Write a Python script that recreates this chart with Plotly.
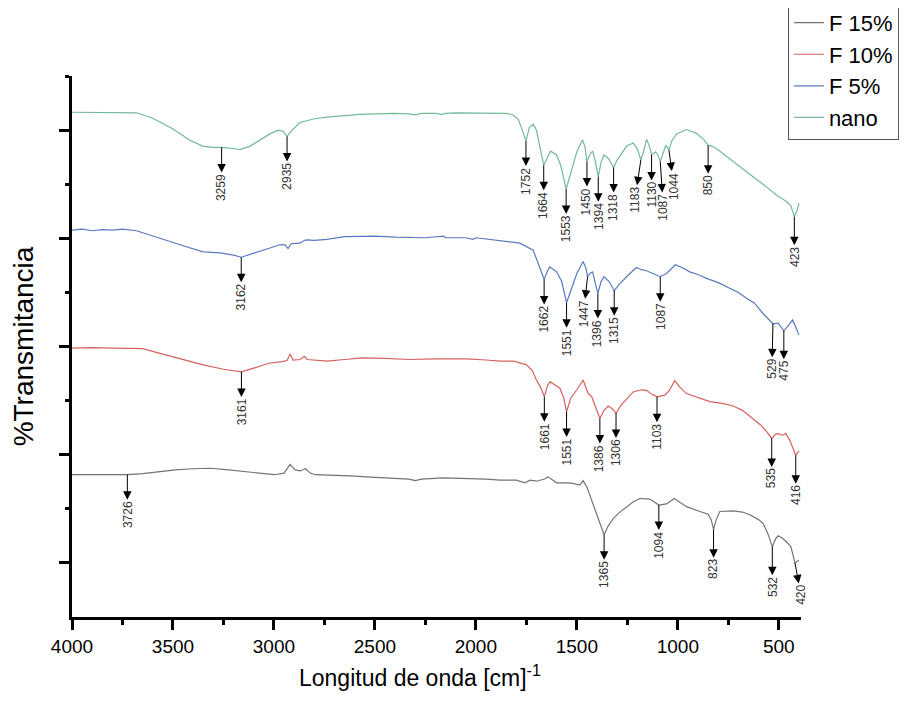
import numpy as np
import plotly.graph_objects as go

# ---------------- data (wavenumber cm^-1, offset transmittance, arbitrary units) ----------------
nano_wn = [4000, 3900, 3800, 3700, 3680, 3600, 3500, 3420, 3351, 3300, 3259, 3200, 3168, 3120, 3069,
           3020, 2980, 2955, 2935, 2915, 2871, 2800, 2739, 2650, 2574, 2500, 2400, 2330, 2300, 2270,
           2200, 2170, 2150, 2100, 2000, 1900, 1850, 1815, 1790, 1770, 1752, 1735, 1716, 1700, 1680,
           1664, 1645, 1630, 1600, 1580, 1553, 1530, 1500, 1472, 1460, 1450, 1435, 1422, 1410, 1394,
           1380, 1366, 1345, 1318, 1300, 1254, 1221, 1200, 1183, 1170, 1155, 1140, 1130, 1110, 1100,
           1087, 1070, 1059, 1044, 1030, 1006, 957, 907, 870, 850, 830, 809, 726, 644, 600, 561, 512,
           462, 440, 423, 410, 400]
nano_t = [9.33, 9.33, 9.33, 9.33, 9.32, 9.22, 9.02, 8.82, 8.70, 8.68, 8.68, 8.66, 8.64, 8.70, 8.82,
          8.93, 9.00, 8.98, 8.88, 8.98, 9.14, 9.21, 9.24, 9.27, 9.29, 9.30, 9.31, 9.30, 9.28, 9.31,
          9.31, 9.29, 9.31, 9.32, 9.32, 9.32, 9.31, 9.28, 9.20, 9.00, 8.80, 9.05, 9.11, 9.00, 8.60,
          8.35, 8.50, 8.61, 8.54, 8.35, 7.91, 8.20, 8.60, 8.82, 8.70, 8.42, 8.55, 8.61, 8.45, 8.14,
          8.40, 8.54, 8.48, 8.31, 8.45, 8.70, 8.76, 8.65, 8.45, 8.60, 8.83, 8.70, 8.54, 8.60, 8.55,
          8.42, 8.60, 8.72, 8.63, 8.80, 8.93, 9.01, 8.94, 8.82, 8.72, 8.70, 8.66, 8.42, 8.17, 8.06, 7.95, 7.80,
          7.68, 7.60, 7.40, 7.50, 7.65]

f5_wn = [4000, 3950, 3900, 3850, 3800, 3750, 3680, 3600, 3515, 3430, 3350, 3267, 3200, 3162, 3120,
         3069, 3020, 2970, 2945, 2930, 2915, 2871, 2850, 2838, 2800, 2739, 2650, 2574, 2500, 2400,
         2330, 2250, 2160, 2150, 2050, 2014, 2000, 1881, 1782, 1716, 1683, 1662, 1645, 1634, 1600,
         1575, 1551, 1525, 1500, 1469, 1455, 1447, 1435, 1422, 1410, 1396, 1380, 1366, 1340, 1315,
         1290, 1254, 1205, 1180, 1155, 1120, 1087, 1056, 1035, 1012, 975, 941, 900, 858, 800, 759,
         700, 660, 620, 578, 545, 529, 503, 475, 450, 432, 415, 400]
f5_t = [7.15, 7.17, 7.14, 7.16, 7.15, 7.17, 7.14, 7.05, 6.94, 6.84, 6.75, 6.73, 6.69, 6.65, 6.70,
        6.75, 6.81, 6.88, 6.88, 6.81, 6.90, 6.91, 6.96, 6.97, 6.96, 6.98, 7.03, 7.04, 7.04, 7.02,
        7.01, 7.01, 7.04, 7.01, 7.01, 6.98, 7.01, 6.96, 6.91, 6.78, 6.47, 6.24, 6.40, 6.47, 6.38,
        6.20, 5.81, 6.10, 6.35, 6.57, 6.45, 6.29, 6.35, 6.38, 6.20, 5.98, 6.20, 6.29, 6.20, 6.03,
        6.15, 6.29, 6.46, 6.42, 6.40, 6.35, 6.29, 6.35, 6.42, 6.51, 6.45, 6.38, 6.33, 6.26, 6.18, 6.11,
        6.00, 5.89, 5.80, 5.61, 5.48, 5.42, 5.43, 5.29, 5.40, 5.49, 5.35, 5.21]

f10_wn = [4000, 3900, 3800, 3700, 3650, 3550, 3450, 3350, 3250, 3161, 3100, 3026, 2960, 2935, 2920,
          2905, 2870, 2850, 2835, 2780, 2737, 2650, 2564, 2450, 2332, 2200, 2100, 2043, 1950, 1881,
          1812, 1749, 1720, 1700, 1680, 1661, 1645, 1633, 1600, 1584, 1565, 1551, 1530, 1500, 1469,
          1444, 1427, 1410, 1386, 1365, 1345, 1325, 1306, 1280, 1250, 1221, 1180, 1155, 1130, 1103,
          1064, 1040, 1015, 990, 957, 900, 842, 780, 726, 680, 627, 590, 561, 535, 515, 503, 480,
          465, 446, 430, 416, 400]
f10_t = [4.97, 4.98, 4.97, 4.97, 4.96, 4.86, 4.76, 4.66, 4.58, 4.53, 4.60, 4.69, 4.72, 4.74, 4.86,
         4.75, 4.76, 4.82, 4.76, 4.74, 4.73, 4.76, 4.79, 4.78, 4.76, 4.77, 4.77, 4.77, 4.75, 4.73,
         4.73, 4.66, 4.55, 4.38, 4.25, 4.07, 4.28, 4.35, 4.27, 4.23, 4.05, 3.79, 4.05, 4.20, 4.38,
         4.13, 4.08, 3.90, 3.67, 3.82, 3.90, 3.85, 3.77, 3.92, 4.05, 4.16, 4.20, 4.19, 4.12, 4.07,
         4.10, 4.20, 4.37, 4.25, 4.13, 4.05, 3.98, 3.95, 3.90, 3.82, 3.67, 3.55, 3.43, 3.30, 3.38, 3.39, 3.36,
         3.39, 3.27, 3.12, 2.99, 3.07]

f15_wn = [4000, 3900, 3800, 3726, 3650, 3560, 3488, 3400, 3315, 3250, 3142, 3050, 2997, 2950, 2920,
          2895, 2870, 2844, 2820, 2795, 2700, 2621, 2500, 2400, 2332, 2300, 2270, 2159, 2050, 1950,
          1881, 1800, 1757, 1732, 1700, 1660, 1642, 1620, 1600, 1551, 1520, 1485, 1469, 1450, 1427,
          1394, 1375, 1365, 1345, 1320, 1290, 1254, 1220, 1188, 1139, 1094, 1056, 1018, 990, 957,
          891, 850, 835, 823, 810, 792, 726, 680, 644, 600, 578, 555, 532, 515, 503, 480, 462, 440,
          420, 400]
f15_t = [2.63, 2.63, 2.63, 2.63, 2.65, 2.69, 2.72, 2.74, 2.75, 2.73, 2.69, 2.65, 2.63, 2.66, 2.82,
         2.72, 2.70, 2.74, 2.66, 2.63, 2.62, 2.61, 2.58, 2.57, 2.55, 2.52, 2.55, 2.57, 2.56, 2.55,
         2.53, 2.53, 2.48, 2.53, 2.51, 2.55, 2.59, 2.54, 2.48, 2.48, 2.47, 2.44, 2.52, 2.40, 2.16,
         1.79, 1.60, 1.52, 1.68, 1.82, 1.93, 2.04, 2.13, 2.19, 2.18, 2.07, 2.09, 2.19, 2.12, 2.04,
         1.95, 1.90, 1.80, 1.62, 1.80, 1.95, 1.96, 1.94, 1.89, 1.80, 1.73, 1.55, 1.30, 1.45, 1.50, 1.45,
         1.39, 1.30, 1.00, 1.05]

# labelled peaks per series
nano_peaks = [3259, 2935, 1752, 1664, 1553, 1450, 1394, 1318, 1183, 1130, 1087, 1044, 850, 423]
f5_peaks = [3162, 1662, 1551, 1447, 1396, 1315, 1087, 529, 475]
f10_peaks = [3161, 1661, 1551, 1386, 1306, 1103, 535, 416]
f15_peaks = [3726, 1365, 1094, 823, 532, 420]

series_names = ["F 15%", "F 10%", "F 5%", "nano"]
series_colors = ["#737373", "#d4625e", "#5a7abf", "#74b99a"]

x_tick_vals = [500, 1000, 1500, 2000, 2500, 3000, 3500, 4000]
x_minor_vals = [750, 1250, 1750, 2250, 2750, 3250, 3750]
y_tick_vals = [1, 3, 5, 7, 9]
y_minor_vals = [2, 4, 6, 8, 10]

x_title = "Longitud de onda [cm]<sup>-1</sup>"
y_title = "%Transmitancia"

# label placement tweaks (pixel offsets of label centre from the marked point)
label_offsets = {
    ("nano", 1183): (-6, 40),
    ("nano", 1087): (3, 46),
    ("nano", 1044): (5, 36),
    ("F 5%", 1447): (-4, 37),
    ("F 5%", 529): (-1, 45),
    ("F 15%", 420): (6, 32),
}

series = [
    (f15_wn, f15_t, f15_peaks),
    (f10_wn, f10_t, f10_peaks),
    (f5_wn, f5_t, f5_peaks),
    (nano_wn, nano_t, nano_peaks),
]

fig = go.Figure()
annotations = []
for (wn, t, peaks), name, color in zip(series, series_names, series_colors):
    fig.add_trace(go.Scatter(x=wn, y=t, mode="lines", name=name,
                             line=dict(color=color, width=1.2)))
    wn_arr = np.array(wn, dtype=float)[::-1]
    t_arr = np.array(t, dtype=float)[::-1]
    for p in peaks:
        yv = float(np.interp(p, wn_arr, t_arr))
        ax, ay = label_offsets.get((name, p), (0, 40))
        annotations.append(dict(
            x=p, y=yv, xref="x", yref="y", text=str(p), textangle=-90,
            showarrow=True, arrowside="start",
            startarrowhead=2, startarrowsize=1.7, arrowhead=2, arrowsize=1.7,
            arrowwidth=1, arrowcolor="black", ax=ax, ay=ay,
            font=dict(family="Liberation Sans, Arial", size=12, color="#333333"),
        ))

axis_font = dict(family="Liberation Sans, Arial", color="black")

# x-axis title (slightly left of the plot centre, as in the original)
annotations.append(dict(
    text=x_title, xref="paper", yref="paper", x=0.477, y=0, xanchor="center", yanchor="middle",
    yshift=-59, showarrow=False, font=dict(size=23, **axis_font),
))

# page body has an 8px margin, so the figure is 8px smaller than the window
fig.update_layout(
    width=906, height=699,
    margin=dict(l=64, r=113, t=68, b=90, autoexpand=False),
    paper_bgcolor="white", plot_bgcolor="white",
    font=dict(family="Liberation Sans, Arial", color="black"),
    annotations=annotations,
    showlegend=True,
    legend=dict(
        x=0.982, xanchor="left", y=0.882, yanchor="bottom",
        font=dict(family="Liberation Sans, Arial", size=22, color="black"),
        bordercolor="#555555", borderwidth=1, bgcolor="white",
        tracegroupgap=0,
    ),
    xaxis=dict(
        range=[4000, 390], tickvals=x_tick_vals,
        ticks="outside", ticklen=10, tickwidth=2.5, tickcolor="black",
        minor=dict(tickvals=x_minor_vals, ticks="outside", ticklen=5, tickwidth=2.5, tickcolor="black"),
        showline=True, linewidth=3, linecolor="black", showgrid=False, zeroline=False,
        tickfont=dict(size=19, **axis_font),
    ),
    yaxis=dict(
        range=[0, 10], tickvals=y_tick_vals, showticklabels=False,
        ticks="outside", ticklen=10, tickwidth=2.5, tickcolor="black",
        minor=dict(tickvals=y_minor_vals, ticks="outside", ticklen=4, tickwidth=2.5, tickcolor="black"),
        showline=True, linewidth=3, linecolor="black", showgrid=False, zeroline=False,
        title=dict(text=y_title, font=dict(size=28, **axis_font), standoff=18),
    ),
)

fig.write_html("out.html")
